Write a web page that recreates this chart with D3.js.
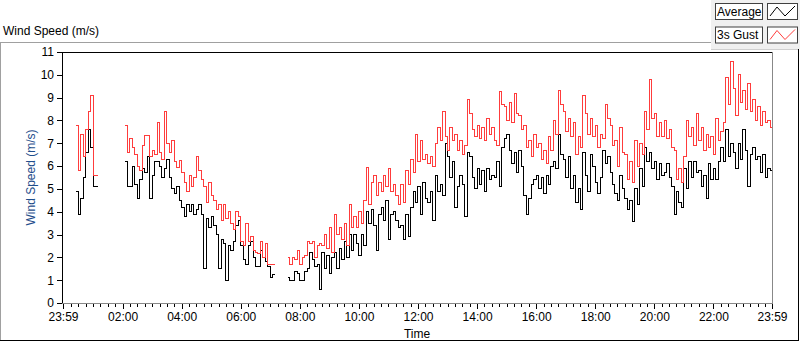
<!DOCTYPE html>
<html>
<head>
<meta charset="UTF-8">
<title>Wind Speed</title>
<script src="https://d3js.org/d3.v7.min.js"></script>
<style>
    * { margin: 0; padding: 0; }
    body { background: #fff; width: 800px; height: 342px; overflow: hidden; font-family: "Liberation Sans", Arial, sans-serif; }
    svg text { font-family: "Liberation Sans", Arial, sans-serif; font-size: 12px; fill: #000; }
    .tick text { font-family: "Liberation Sans Narrow", "Liberation Sans", sans-serif; font-size: 12px; }
    .tick line { stroke: #000; shape-rendering: crispEdges; }
    .line { fill: none; stroke-width: 1; shape-rendering: crispEdges; }
</style>
</head>
<body>
<svg id="chart" width="800" height="342"></svg>
<script>
// 5 minute samples, three logging segments (gaps in between)
const stepMinutes = 5;
const segStarts = ["00:25", "02:05", "07:35"];

const avg1 = [4.9, 3.9, 4.6, 5.5, 6.6, 7.6, 6.8, 5.1, 5.1, 5.1];
const gust1 = [7.8, 5.8, 7.4, 6.4, 7.6, 8.4, 9.1, 5.6, 5.6, 5.6];

const avg2 = [6.2, 5.1, 5.1, 6.0, 5.2, 4.6, 5.4, 5.9, 5.7, 6.4, 4.6, 5.6, 6.2, 6.2, 6.0, 5.5,
    5.9, 6.3, 5.5, 5.0, 4.8, 5.1, 4.5, 4.2, 3.8, 4.3, 4.0, 4.3, 3.9, 4.1, 4.3, 3.9,
    1.5, 3.7, 3.3, 3.8, 3.4, 3.0, 1.5, 2.8, 2.6, 1.0, 2.5, 2.3, 2.7, 3.4, 3.6, 2.5,
    1.9, 1.7, 2.5, 2.7, 2.0, 1.6, 1.6, 2.3, 2.0, 1.8, 1.6, 1.1, 1.25, 1.25];
const gust2 = [7.8, 6.6, 7.2, 6.8, 6.5, 6.0, 5.8, 6.9, 7.35, 7.35, 6.4, 6.7, 6.5, 7.9, 6.6, 6.3,
    8.4, 7.0, 6.6, 7.1, 6.2, 5.95, 6.25, 5.7, 5.3, 4.9, 5.6, 5.1, 5.5, 6.4, 5.8, 5.4,
    5.1, 4.4, 5.3, 4.7, 4.5, 4.1, 4.3, 3.6, 4.3, 3.7, 4.0, 3.5, 3.2, 4.0, 3.8, 2.7,
    2.5, 3.5, 2.7, 2.9, 2.3, 2.2, 2.15, 2.7, 2.0, 2.6, 1.7, 1.7, 1.7, 1.7];

const avg3 = [1.1, 1.0, 1.0, 1.4, 1.3, 1.0, 1.0, 1.4, 1.5, 2.2, 1.9, 1.6, 1.7,
    0.6, 2.2, 1.5, 2.1, 1.3, 2.0, 2.2, 1.5, 2.4, 1.9, 2.7, 2.0, 3.0, 2.3, 3.0, 2.6,
    2.1, 3.0, 2.5, 4.0, 3.5, 4.1, 3.4, 2.3, 3.9, 4.2, 3.6, 4.5, 2.8, 3.9, 4.0, 3.6,
    3.3, 3.4, 2.8, 3.9, 2.9, 4.2, 4.9, 4.4, 5.1, 3.9, 5.3, 4.6, 4.4, 4.9, 3.6, 5.6,
    4.9, 5.2, 4.7, 7.0, 6.4, 5.5, 6.2, 4.2, 5.1, 5.6, 5.2, 3.8, 6.6, 6.4, 5.5, 5.0,
    5.9, 5.2, 5.8, 4.9, 5.9, 5.4, 5.6, 5.5, 6.2, 5.1, 6.8, 7.2, 7.4, 6.7, 6.1, 6.6,
    5.7, 6.7, 6.0, 4.7, 3.9, 4.6, 5.2, 5.4, 5.6, 5.0, 5.5, 4.8, 5.6, 5.2, 6.0, 6.2,
    5.9, 7.4,
    6.5, 6.3, 5.5, 6.4, 5.0, 5.6, 4.4, 5.0, 4.1, 6.6, 5.6, 4.9, 6.5, 6.0, 5.3, 4.8,
    5.5, 6.7, 6.1, 6.4, 5.7, 5.2, 4.8, 4.5, 5.6, 5.0, 4.6, 4.1, 4.5, 3.55, 5.0, 4.3,
    5.9, 5.1, 6.8, 6.2, 6.6, 5.9, 6.2, 5.4, 6.1, 5.6, 5.7, 6.1, 5.5, 5.1, 3.9, 4.9,
    4.4, 4.2, 5.9, 5.0, 6.2, 5.5, 6.2, 5.7, 5.8, 5.1, 5.6, 4.6, 6.1, 5.4, 5.9, 5.4,
    6.2, 6.8, 6.2, 7.6, 6.4, 7.0, 6.6, 5.9, 7.0, 6.3, 7.6, 6.7, 5.1, 6.5, 6.8, 6.3,
    6.4, 5.7, 6.5, 5.5, 5.9, 5.8, 5.8];
const gust3 = [2.0, 1.7, 2.0, 1.9, 2.3, 1.7, 2.0, 2.1, 2.7, 2.6, 2.7, 2.0, 2.5,
    2.6, 2.5, 3.0, 2.4, 3.3, 2.2, 3.9, 3.0, 3.3, 2.8, 3.5, 2.5, 4.3, 3.3, 3.8, 3.3,
    4.0, 3.5, 4.5, 5.95, 4.3, 5.3, 5.6, 4.7, 5.3, 4.9, 5.6, 5.1, 5.9, 4.9, 5.2, 4.7,
    4.3, 5.2, 4.4, 5.8, 5.2, 6.3, 5.7, 7.4, 6.2, 7.1, 6.3, 6.5, 6.1, 6.4, 6.0, 7.0,
    7.7, 7.1, 8.4, 7.3, 6.7, 7.7, 7.1, 7.4, 6.7, 7.1, 6.5, 6.9, 8.9, 8.3, 7.6, 7.3,
    7.8, 7.2, 7.7, 7.1, 8.1, 7.4, 7.7, 7.1, 6.9, 9.25, 8.7, 8.6, 8.0, 8.8, 7.9, 9.2,
    8.3, 8.2, 7.6, 7.8, 6.8, 7.1, 6.4, 7.4, 6.8, 7.0, 6.3, 6.7, 6.1, 7.3, 6.7, 8.0,
    7.4, 9.3,
    8.7, 8.4, 7.5, 8.1, 7.3, 7.9, 6.5, 7.3, 6.8, 9.1, 8.3, 7.4, 8.1, 7.3, 7.8, 6.8,
    7.4, 7.2, 8.7, 8.1, 7.8, 6.9, 7.1, 6.0, 7.7, 6.6, 6.5, 5.4, 6.2, 5.3, 7.1, 6.0,
    7.0, 6.5, 8.4, 7.6, 9.8, 8.1, 8.3, 7.3, 7.9, 7.3, 8.0, 7.2, 7.6, 6.8, 6.7, 5.4,
    5.9, 5.3, 6.4, 8.0, 7.3, 7.7, 6.9, 8.3, 7.1, 7.7, 6.7, 7.4, 6.8, 7.3, 6.5, 8.1,
    7.1, 7.5, 7.9, 9.9, 8.7, 10.6, 9.4, 8.2, 10.0, 8.8, 9.3, 8.5, 9.6, 8.4, 8.9, 8.0,
    8.6, 7.8, 8.4, 7.9, 8.0, 7.7, 7.8];

const yTicks = d3.range(0, 12);
const legendNames = ["Average", "3s Gust"];
const colors = ["#000000", "#ff3c3c"];

const parseT = d3.timeParse("%H:%M");
const tStart = d3.timeMinute.offset(parseT("00:00"), -1);
const tEnd = parseT("23:59");

function toPoints(start, vals) {
    const t0 = parseT(start);
    return vals.map((v, i) => ({ t: d3.timeMinute.offset(t0, i * stepMinutes), v: v }));
}
const avgSegs = [avg1, avg2, avg3].map((s, k) => toPoints(segStarts[k], s));
const gustSegs = [gust1, gust2, gust3].map((s, k) => toPoints(segStarts[k], s));

const svg = d3.select("#chart");

// plot area bounds
const pLeft = 62, pRight = 772, pTop = 52, pBottom = 303;

const x = d3.scaleTime().domain([tStart, tEnd]).range([pLeft + 1, pRight]);
const y = d3.scaleLinear().domain([0, 11]).range([pBottom, pTop]);

// outer panel frame
svg.append("rect").attr("x", 711).attr("y", 0).attr("width", 89).attr("height", 49).attr("fill", "#f0f0f0");
svg.append("line").attr("x1", 0).attr("x2", 711).attr("y1", 42.5).attr("y2", 42.5).attr("stroke", "#a0a0a0");
svg.append("line").attr("x1", 711).attr("x2", 798).attr("y1", 49.5).attr("y2", 49.5).attr("stroke", "#d0d0d0");
svg.append("line").attr("x1", 0.5).attr("x2", 0.5).attr("y1", 42).attr("y2", 341).attr("stroke", "#a0a0a0");
svg.append("line").attr("x1", 798.5).attr("x2", 798.5).attr("y1", 49).attr("y2", 341).attr("stroke", "#000");
svg.append("line").attr("x1", 0).attr("x2", 799).attr("y1", 340.5).attr("y2", 340.5).attr("stroke", "#000");

svg.append("text").attr("x", 3).attr("y", 35).text("Wind Speed (m/s)");

// legend
legendNames.forEach((name, i) => {
    const ly = 3 + i * 23.5;
    const g = svg.append("g");
    g.append("rect").attr("x", 715.5).attr("y", ly + 0.5).attr("width", 47).attr("height", 16)
        .attr("fill", "#fff").attr("stroke", "#404040");
    g.append("text").attr("x", 717).attr("y", ly + 12.5).text(name);
    g.append("rect").attr("x", 767.5).attr("y", ly + 0.5).attr("width", 30).attr("height", 16)
        .attr("fill", "#fff").attr("stroke", "#404040");
    g.append("polyline")
        .attr("points", [[770, ly + 13], [777, ly + 4], [785, ly + 13], [795, ly + 3]].map(p => p.join(",")).join(" "))
        .attr("fill", "none").attr("stroke", colors[i]);
});

// plot background + frame
svg.append("rect").attr("x", pLeft).attr("y", pTop).attr("width", pRight - pLeft).attr("height", pBottom - pTop).attr("fill", "#fff");

svg.append("clipPath").attr("id", "clip")
    .append("rect").attr("x", pLeft + 1).attr("y", pTop).attr("width", pRight - pLeft - 1).attr("height", pBottom - pTop);

const line = d3.line()
    .x(d => x(d.t))
    .y(d => y(d.v))
    .curve(d3.curveStepAfter);

const plot = svg.append("g").attr("clip-path", "url(#clip)");
[avgSegs, gustSegs].forEach((segs, k) => {
    plot.selectAll(".s" + k)
        .data(segs)
        .enter()
        .append("path")
        .attr("class", "line s" + k)
        .attr("stroke", colors[k])
        .attr("d", line);
});

svg.append("line").attr("x1", pLeft + 0.5).attr("x2", pRight).attr("y1", pTop + 0.5).attr("y2", pTop + 0.5).attr("stroke", "#000");
svg.append("line").attr("x1", pLeft + 0.5).attr("x2", pLeft + 0.5).attr("y1", pTop).attr("y2", pBottom + 1).attr("stroke", "#000");
svg.append("line").attr("x1", pRight + 0.5).attr("x2", pRight + 0.5).attr("y1", pTop).attr("y2", pBottom + 1).attr("stroke", "#888");
svg.append("line").attr("x1", pLeft).attr("x2", pRight + 1).attr("y1", pBottom + 0.5).attr("y2", pBottom + 0.5).attr("stroke", "#888");

// y axis
svg.append("g")
    .attr("transform", `translate(${pLeft},0)`)
    .call(d3.axisLeft(y).tickValues(yTicks).tickSize(5).tickPadding(3).tickFormat(d3.format("d")))
    .call(g => g.select(".domain").remove());

// x axis
const majors = [tStart].concat(d3.timeHour.every(2).range(parseT("02:00"), parseT("23:00"))).concat([tEnd]);
const minors = d3.timeMinute.every(15).range(parseT("00:00"), tEnd);

svg.append("g")
    .attr("transform", `translate(0,${pBottom + 1})`)
    .call(d3.axisBottom(x).tickValues(minors).tickSize(3).tickFormat(""))
    .call(g => g.select(".domain").remove());

svg.append("g")
    .attr("transform", `translate(0,${pBottom + 1})`)
    .call(d3.axisBottom(x).tickValues(majors).tickSize(5).tickPadding(3).tickFormat(d3.timeFormat("%H:%M")))
    .call(g => g.select(".domain").remove());

svg.append("text").attr("x", (pLeft + pRight) / 2).attr("y", 338).attr("text-anchor", "middle").text("Time");

svg.append("text")
    .attr("transform", `translate(35,${(pTop + pBottom) / 2}) rotate(-90)`)
    .attr("text-anchor", "middle")
    .style("fill", "#1f4e8c")
    .text("Wind Speed (m/s)");
</script>
</body>
</html>
